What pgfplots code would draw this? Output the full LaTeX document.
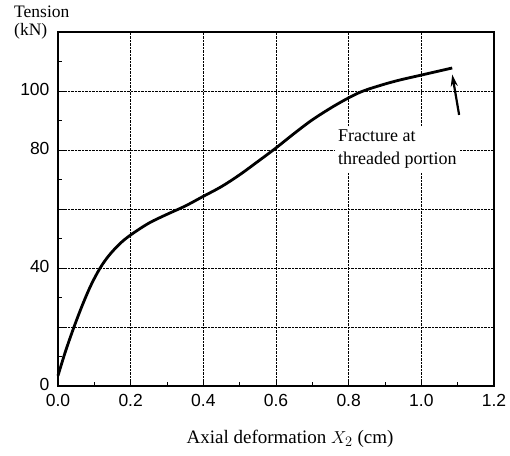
\documentclass[border=0pt]{standalone}
\usepackage{pgfplots}
\pgfplotsset{compat=1.18}
\usepackage{fontspec}
\setmainfont{Liberation Serif}
\newfontfamily\ticksf{Liberation Sans}
\usetikzlibrary{arrows.meta}
\begin{document}
\begin{tikzpicture}
\path[use as bounding box] (-58pt,-69pt) rectangle (452pt,386pt);
\begin{axis}[
  at={(0pt,0pt)}, anchor=south west,
  scale only axis,
  width=436pt, height=354pt,
  xmin=0, xmax=1.2, ymin=0, ymax=120,
  xtick={0,0.2,...,1.2},
  xticklabels={0.0,0.2,0.4,0.6,0.8,1.0,1.2},
  ytick={0,20,...,120},
  yticklabels={0,,40,,80,100,},
  minor x tick num=1, minor y tick num=1,
  tick align=inside, tick pos=left,
  major tick length=7pt, minor tick length=4pt,
  tick style={black, line width=0.8pt},
  axis line style={line width=1.4pt},
  grid=major,
  major grid style={black, densely dotted, line width=0.7pt},
  ticklabel style={font=\ticksf\fontsize{17.5}{17.5}\selectfont},
  /pgf/number format/assume math mode=true,
  xticklabel style={yshift=-5pt},
  yticklabel style={xshift=-5pt, yshift=2pt},
  clip=false,
]
\addplot[black, line width=2.8pt, smooth, tension=0.55] coordinates {
(0,3.5)
(0.02,11.5)
(0.044,20)
(0.069,28)
(0.092,34.5)
(0.116,40)
(0.14,44.2)
(0.17,48.2)
(0.2,51.2)
(0.25,55.2)
(0.3,58.2)
(0.35,61)
(0.4,64.3)
(0.45,67.6)
(0.5,71.6)
(0.55,76.1)
(0.6,80.7)
(0.65,85.6)
(0.702,90.4)
(0.768,95.5)
(0.83,99.5)
(0.89,102)
(0.94,103.7)
(1.0,105.4)
(1.085,107.8)
};
\draw[black, line width=2.2pt, -{Stealth[length=12pt,width=7pt]}] (axis cs:1.104,91.9) -- (axis cs:1.085,105.6);
\node[anchor=north west, align=left, fill=white, font=\fontsize{18}{23}\selectfont, inner sep=3pt] at (axis cs:0.762,87.8) {Fracture at\\threaded portion};
\end{axis}
\node[anchor=north west, align=left, font=\fontsize{17.5}{17.5}\selectfont, inner sep=0pt] at (-44pt,380pt) {Tension\\(kN)};
\node[anchor=base, font=\fontsize{19}{20}\selectfont, inner sep=0pt] at (232pt,-57pt) {Axial deformation $X_2$ (cm)};
\end{tikzpicture}
\end{document}
